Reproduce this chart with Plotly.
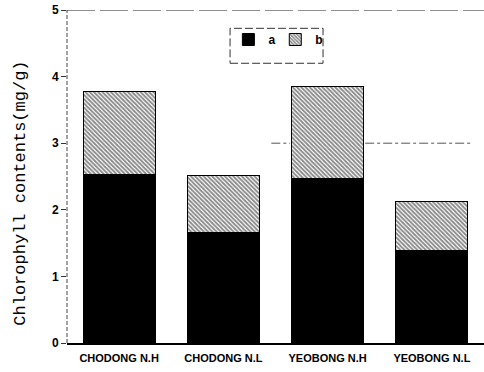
import plotly.graph_objects as go

# Chlorophyll a and b contents (mg/g) per site/treatment
sites = ["CHODONG N.H", "CHODONG N.L", "YEOBONG N.H", "YEOBONG N.L"]
chl_a = [2.53, 1.66, 2.47, 1.39]
chl_b = [1.24, 0.86, 1.38, 0.74]
y_ticks = [0, 1, 2, 3, 4, 5]

fig = go.Figure()
fig.add_trace(go.Bar(
    x=sites, y=chl_a, name="a", legend="legend",
    marker=dict(color="black", line=dict(color="black", width=1)),
))
fig.add_trace(go.Bar(
    x=sites, y=chl_b, name="b", legend="legend2",
    marker=dict(
        color="white",
        line=dict(color="black", width=1),
        pattern=dict(shape="\\", fgcolor="#111", bgcolor="white",
                     size=3, solidity=0.62),
    ),
))

legend_font = dict(size=12, family="Liberation Sans, Arial, sans-serif",
                   weight="bold", color="black")

fig.update_layout(
    barmode="stack",
    bargap=0.31,
    width=484, height=372,
    margin=dict(l=67, r=0, t=10, b=29),
    paper_bgcolor="white", plot_bgcolor="white",
    font=dict(family="Liberation Sans, Arial, sans-serif", color="black"),
    showlegend=True,
    legend=dict(
        orientation="h", x=0.387, y=0.955, xanchor="left", yanchor="top",
        bgcolor="rgba(0,0,0,0)", borderwidth=0, font=legend_font,
    ),
    legend2=dict(
        orientation="h", x=0.4995, y=0.955, xanchor="left", yanchor="top",
        bgcolor="rgba(0,0,0,0)", borderwidth=0, font=legend_font,
    ),
    xaxis=dict(
        showline=True, linecolor="black", linewidth=1.5,
        ticks="", showgrid=False, zeroline=False, ticklabelstandoff=4,
        tickfont=dict(size=11, family="Liberation Sans, Arial, sans-serif",
                      weight="bold"),
    ),
    yaxis=dict(
        range=[0, 5], tickvals=y_ticks, ticktext=[str(v) for v in y_ticks],
        showline=False, ticks="outside", ticklen=5, tickcolor="#333",
        showgrid=False, zeroline=False,
        tickfont=dict(size=12, family="Liberation Sans, Arial, sans-serif",
                      weight="bold"),
    ),
)

# dashed frame pieces: left axis and top border at 5
fig.add_shape(type="line", xref="paper", yref="y", x0=0, x1=0, y0=0, y1=5,
              line=dict(color="#444", width=1, dash="4px,2px"))
fig.add_shape(type="line", xref="paper", yref="y", x0=0, x1=1, y0=5, y1=5,
              line=dict(color="#222", width=1.2, dash="28px,5px"))
# faint guide at 3 on the right half, in the gaps around the third bar
for gx0, gx1 in [(0.49, 0.535), (0.715, 0.97)]:
    fig.add_shape(type="line", xref="paper", yref="y", x0=gx0, x1=gx1,
                  y0=3, y1=3, layer="below",
                  line=dict(color="#555", width=1, dash="dashdot"))
# dashed legend box
fig.add_shape(type="rect", xref="paper", yref="paper",
              x0=0.391, x1=0.614, y0=0.84, y1=0.945,
              line=dict(color="#333", width=1, dash="8px,3px"))

fig.add_annotation(
    text="Chlorophyll contents(mg/g)", xref="paper", yref="paper",
    x=-0.139, y=0.45, textangle=-90, showarrow=False,
    font=dict(family="Liberation Mono, monospace", size=17, color="black"),
)

fig.write_html("out.html")
